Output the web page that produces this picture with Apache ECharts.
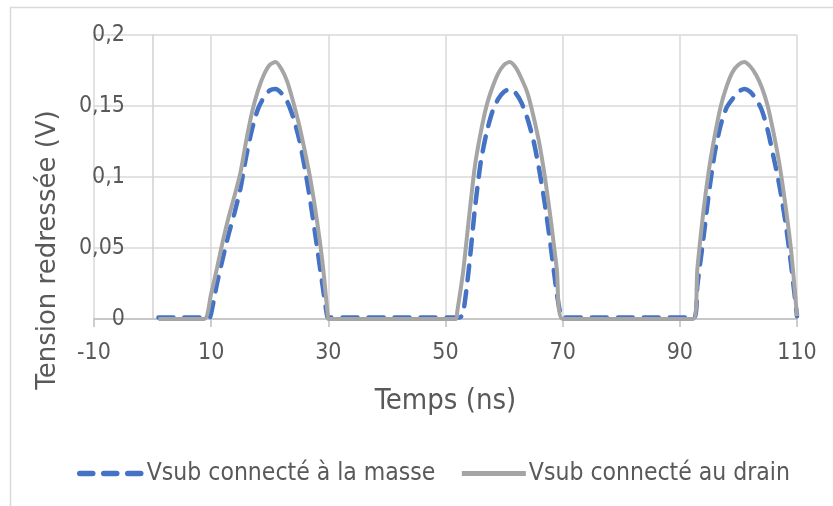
<!DOCTYPE html>
<html>
<head>
<meta charset="utf-8">
<script src="https://cdn.jsdelivr.net/npm/echarts@6/dist/echarts.min.js"></script>
<style>html,body{margin:0;padding:0;background:#fff}#c{width:833px;height:506px}</style>
</head>
<body>
<div id="c"></div>
<script>
// ---- data ----
var seriesNames = ['Vsub connecté à la masse', 'Vsub connecté au drain'];
var xTitle = 'Temps (ns)';
var yTitle = 'Tension redressée (V)';

// Vsub connecté à la masse (blue dashed)
var blueT = [1, 5, 9.7, 10, 11, 12, 13, 14, 15, 16, 17, 18, 19, 20, 21, 22, 23, 24, 25, 26, 27, 28, 29, 29.8, 30,
             35, 40, 45, 52.4, 53, 54, 55, 56, 57, 58, 59, 60, 61, 62, 63, 64, 65, 66, 67, 68, 69, 69.7, 70,
             75, 80, 85, 92.4, 93, 94, 95, 96, 97, 98, 99, 100, 101, 102, 103, 104, 105, 106, 107, 108, 109, 110];
var blueV = [0.001, 0.001, 0.001, 0.004, 0.025, 0.043, 0.060, 0.075, 0.092, 0.115, 0.134, 0.148, 0.156, 0.161, 0.162, 0.159, 0.153, 0.142, 0.127, 0.106, 0.081, 0.053, 0.024, 0.002, 0.001,
             0.001, 0.001, 0.001, 0.001, 0.004, 0.036, 0.077, 0.110, 0.131, 0.146, 0.155, 0.160, 0.162, 0.159, 0.152, 0.141, 0.126, 0.105, 0.080, 0.050, 0.018, 0.002, 0.001,
             0.001, 0.001, 0.001, 0.001, 0.024, 0.056, 0.090, 0.118, 0.137, 0.149, 0.155, 0.160, 0.162, 0.160, 0.155, 0.147, 0.133, 0.114, 0.094, 0.069, 0.038, 0.002];

// Vsub connecté au drain (grey solid)
var grayT = [1, 5, 8.8, 10, 11, 12, 13, 14, 15, 16, 17, 18, 19, 20, 21, 22, 23, 24, 25, 26, 27, 28, 29, 29.9, 30,
             40, 51.8, 52, 53, 54, 55, 56, 57, 58, 59, 60, 61, 62, 63, 64, 65, 66, 67, 68, 69, 70,
             80, 92.3, 93, 94, 95, 96, 97, 98, 99, 100, 101, 102, 103, 104, 105, 106, 107, 108, 109, 110];
var grayV = [0, 0, 0, 0.018, 0.036, 0.055, 0.072, 0.087, 0.103, 0.126, 0.146, 0.161, 0.172, 0.179, 0.181, 0.176, 0.167, 0.153, 0.137, 0.118, 0.097, 0.071, 0.040, 0.003, 0,
             0, 0, 0.005, 0.033, 0.071, 0.107, 0.131, 0.150, 0.163, 0.173, 0.179, 0.181, 0.177, 0.169, 0.159, 0.143, 0.124, 0.099, 0.069, 0.035, 0,
             0, 0, 0.036, 0.075, 0.106, 0.130, 0.150, 0.164, 0.174, 0.179, 0.181, 0.178, 0.172, 0.163, 0.150, 0.131, 0.109, 0.081, 0.048, 0.002];

var xMin = -10, xMax = 110, xStep = 20;
var yMin = 0, yMax = 0.2, yStep = 0.05;

function pairs(t, v) { return t.map(function (x, i) { return [x, v[i]]; }); }

var narrow = "'Liberation Sans Narrow', 'DejaVu Sans Condensed', sans-serif";
var chart = echarts.init(document.getElementById('c'), null, { renderer: 'canvas' });
chart.setOption({
  animation: false,
  backgroundColor: '#ffffff',
  grid: { left: 94, right: 36, top: 35, bottom: 187 },
  legend: {
    left: 72, top: 456,
    itemWidth: 64, itemHeight: 12, itemGap: 24,
    itemStyle: { opacity: 0 },
    textStyle: { fontFamily: narrow, fontSize: 24.5, color: '#595959', padding: [0, 0, 0, -2] },
    data: [
      { name: seriesNames[0], lineStyle: { width: 5.5, type: [13, 11], cap: 'round' } },
      { name: seriesNames[1], lineStyle: { width: 5 } }
    ]
  },
  xAxis: {
    type: 'value', min: xMin, max: xMax, interval: xStep,
    name: xTitle, nameLocation: 'middle', nameGap: 68,
    nameTextStyle: { fontFamily: narrow, fontSize: 29, color: '#595959' },
    axisLine: { show: true, lineStyle: { color: '#bfbfbf', width: 1.5 } },
    axisTick: { show: true, length: 8, lineStyle: { color: '#bfbfbf', width: 1.5 } },
    axisLabel: { fontFamily: narrow, fontSize: 23, color: '#595959', margin: 23 },
    splitLine: { show: true, lineStyle: { color: '#d9d9d9', width: 1.5 } }
  },
  yAxis: {
    type: 'value', min: yMin, max: yMax, interval: yStep,
    axisLine: { show: true, onZero: true, lineStyle: { color: '#d0d0d0', width: 1.5 } },
    axisTick: { show: false },
    axisLabel: {
      fontFamily: narrow, fontSize: 23, color: '#595959', margin: -31,
      formatter: function (v) { return String(+v.toFixed(2)).replace('.', ','); }
    },
    splitLine: { show: true, lineStyle: { color: '#d9d9d9', width: 1.5 } }
  },
  graphic: [
    { type: 'rect', silent: true, shape: { x: 10.5, y: 7.5, width: 840, height: 520 },
      style: { fill: 'none', stroke: '#d9d9d9', lineWidth: 1.5 } },
    { type: 'text', x: 48, y: 250, rotation: Math.PI / 2, silent: true,
      style: { text: yTitle, fontFamily: "'DejaVu Sans', sans-serif", fontSize: 26, fill: '#595959',
               align: 'center', verticalAlign: 'middle' } }
  ],
  series: [
    {
      name: seriesNames[0], type: 'line', data: pairs(blueT, blueV),
      showSymbol: false, symbol: 'none', smooth: 0.25,
      lineStyle: { color: '#4472C4', width: 4.5, type: [15, 11], cap: 'round' },
      itemStyle: { color: '#4472C4' }
    },
    {
      name: seriesNames[1], type: 'line', data: pairs(grayT, grayV),
      showSymbol: false, symbol: 'none', smooth: 0.25,
      lineStyle: { color: '#A5A5A5', width: 4 },
      itemStyle: { color: '#A5A5A5' }
    }
  ]
});
</script>
</body>
</html>
